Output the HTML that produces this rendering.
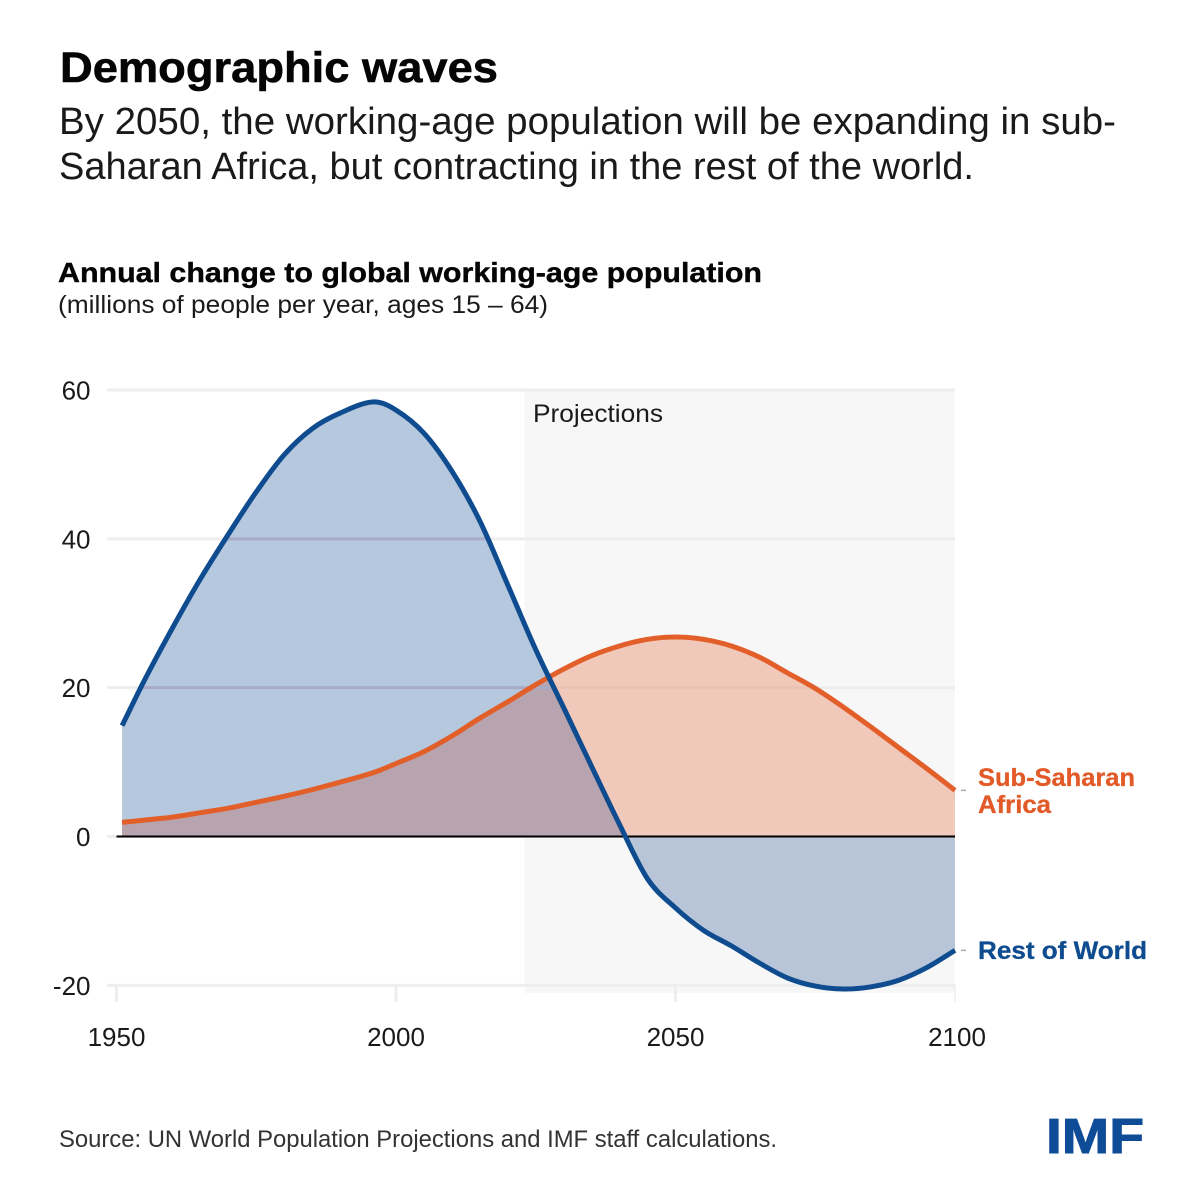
<!DOCTYPE html>
<html lang="en">
<head>
<meta charset="utf-8">
<title>Demographic waves</title>
<style>
html,body{margin:0;padding:0;background:#fff;width:1200px;height:1200px;overflow:hidden}
svg{display:block}
text{font-family:"Liberation Sans",sans-serif;fill:#1a1a1a}
</style>
</head>
<body>
<svg id="chart" xmlns="http://www.w3.org/2000/svg" width="1200" height="1200" viewBox="0 0 1200 1200">
  <rect x="0" y="0" width="1200" height="1200" fill="#ffffff"/>
  <text x="60" y="82" font-size="43" font-weight="700" textLength="438" lengthAdjust="spacingAndGlyphs" style="fill:#050505;stroke:#050505;stroke-width:.6">Demographic waves</text>
  <text x="59" y="134" font-size="38" textLength="1057" lengthAdjust="spacingAndGlyphs">By 2050, the working-age population will be expanding in sub-</text>
  <text x="59" y="179" font-size="38" textLength="915" lengthAdjust="spacingAndGlyphs">Saharan Africa, but contracting in the rest of the world.</text>
  <text x="58" y="282" font-size="28" font-weight="700" textLength="704" lengthAdjust="spacingAndGlyphs" style="fill:#050505;stroke:#050505;stroke-width:.4">Annual change to global working-age population</text>
  <text x="58" y="313" font-size="25" textLength="490" lengthAdjust="spacingAndGlyphs">(millions of people per year, ages 15 – 64)</text>
  <g id="plot"></g>
  <text x="59" y="1147" font-size="24" textLength="718" lengthAdjust="spacingAndGlyphs" style="fill:#333">Source: UN World Population Projections and IMF staff calculations.</text>
  <text x="1046" y="1153" font-size="49" font-weight="700" textLength="98" lengthAdjust="spacingAndGlyphs" style="fill:#0f4c97;stroke:#0f4c97;stroke-width:1">IMF</text>
</svg>
<script>
const years = [1951,1955,1960,1965,1970,1975,1980,1985,1990,1996,2000,2005,2010,2015,2020,2025,2030,2035,2040,2045,2050,2055,2060,2065,2070,2075,2080,2085,2090,2095,2100];
const restOfWorld = [14.9,21,28,34.6,40.6,46.3,51.3,54.8,56.9,58.4,57.3,54.2,49.1,42.4,33.8,25.1,17.3,9.4,1.6,-5.7,-9.6,-12.6,-14.7,-17,-19,-20.1,-20.5,-20.2,-19.3,-17.6,-15.3];
const subSaharanAfrica = [1.9,2.2,2.6,3.2,3.8,4.6,5.4,6.3,7.3,8.6,9.8,11.4,13.5,15.9,18.1,20.4,22.5,24.3,25.6,26.5,26.8,26.5,25.6,24.1,22,19.9,17.4,14.7,11.9,9.1,6.2];
const yTicks = [60,40,20,0,-20];
const xTicks = [1950,2000,2050,2100];
const projectionStartYear = 2023;

const NS = 'http://www.w3.org/2000/svg';
const plot = document.getElementById('plot');
function xScale(year){ return 116.5 + (year - 1950) * (955 - 116.5) / 150; }
function yScale(v){ return 836.5 - v * (836.5 - 390) / 60; }
function make(tag, attrs, text){
  const el = document.createElementNS(NS, tag);
  for (const k in attrs) el.setAttribute(k, attrs[k]);
  if (text !== undefined) el.textContent = text;
  plot.appendChild(el);
  return el;
}
function curve(xs, ys){
  let d = '';
  const n = xs.length;
  const px = xs.map(xScale), py = ys.map(yScale);
  d += px[0].toFixed(2) + ',' + py[0].toFixed(2);
  for (let i = 0; i < n - 1; i++){
    const p0 = Math.max(i - 1, 0), p3 = Math.min(i + 2, n - 1);
    const t1 = (px[i+1] - px[p0]) , t2 = (px[p3] - px[i]);
    const m1 = (py[i+1] - py[p0]) / t1, m2 = (py[p3] - py[i]) / t2;
    const h = px[i+1] - px[i];
    d += ' C' + (px[i] + h/3).toFixed(2) + ',' + (py[i] + m1*h/3).toFixed(2) + ' ' +
         (px[i+1] - h/3).toFixed(2) + ',' + (py[i+1] - m2*h/3).toFixed(2) + ' ' +
         px[i+1].toFixed(2) + ',' + py[i+1].toFixed(2);
  }
  return d;
}

const panel = make('rect', {x:xScale(projectionStartYear), y:yScale(60), width:xScale(2100)-xScale(projectionStartYear), height:993-yScale(60), fill:'#f7f7f7'});



yTicks.forEach(function(t){
  const g = make('line', {x1:107, x2:xScale(2100), y1:yScale(t), y2:yScale(t), stroke:'#eeeeee', 'stroke-width':3});
  
  
  const l = make('text', {x:90.5, y:yScale(t)+9.5, 'text-anchor':'end', 'font-size':26}, String(t));
  
  
});
xTicks.forEach(function(t, i){
  const g = make('line', {x1:xScale(t), x2:xScale(t), y1:985, y2:1002, stroke:'#eeeeee', 'stroke-width':i===3?1.5:3});
  
  
  const l = make('text', {x:xScale(t)+(i===3?2:0), y:1046, 'text-anchor':'middle', 'font-size':26}, String(t));
  
  
});

const projLabel = make('text', {x:533, y:422, 'font-size':25, textLength:130, lengthAdjust:'spacingAndGlyphs'}, 'Projections');



const first = years[0], last = years[years.length-1];
const blueAreaD = 'M'+xScale(first)+','+yScale(0)+' L'+curve(years, restOfWorld)+' L'+xScale(last)+','+yScale(0)+' Z';
const orangeAreaD = 'M'+xScale(first)+','+yScale(0)+' L'+curve(years, subSaharanAfrica)+' L'+xScale(last)+','+yScale(0)+' Z';

const grad = make('linearGradient', {id:'blue-fill', gradientUnits:'userSpaceOnUse', x1:0, x2:0, y1:yScale(60), y2:yScale(-20)});


const split = (yScale(0) - yScale(60)) / (yScale(-20) - yScale(60));
[[0,'#b5c8dd'],[split,'#b5c8dd'],[split,'#b8c5d8'],[1,'#b8c5d8']].forEach(function(s){
  const st = document.createElementNS(NS, 'stop');
  st.setAttribute('offset', s[0]);
  st.setAttribute('stop-color', s[1]);
  grad.appendChild(st);
});

const blueArea = make('path', {d:blueAreaD, fill:'url(#blue-fill)'});


const orangeArea = make('path', {d:orangeAreaD, fill:'#e25a28', 'fill-opacity':0.29});



const clip = make('clipPath', {id:'blue-clip'});


const clipShape = document.createElementNS(NS, 'path');
clipShape.setAttribute('d', blueAreaD);
clip.appendChild(clipShape);

const overlap = make('path', {d:orangeAreaD, fill:'#b8a4af', 'clip-path':'url(#blue-clip)'});



yTicks.filter(function(t){ return t > 0; }).forEach(function(t){
  const g = make('line', {x1:107, x2:xScale(2100), y1:yScale(t), y2:yScale(t), stroke:'#a8aac8', 'stroke-width':3, 'clip-path':'url(#blue-clip)'});
  
  
});

const stub = make('line', {x1:107, x2:xScale(1950), y1:yScale(0), y2:yScale(0), stroke:'#eeeeee', 'stroke-width':3});


const zero = make('line', {x1:xScale(1950), x2:xScale(2100), y1:yScale(0), y2:yScale(0), stroke:'#000', 'stroke-width':2});



const orangeLine = make('path', {d:'M'+curve(years, subSaharanAfrica), fill:'none', stroke:'#e25f2a', 'stroke-width':5});


const blueLine = make('path', {d:'M'+curve(years, restOfWorld), fill:'none', stroke:'#0f4c8f', 'stroke-width':5});



const orangeEnd = subSaharanAfrica[subSaharanAfrica.length-1];
const blueEnd = restOfWorld[restOfWorld.length-1];
const dash1 = make('line', {x1:961, x2:966, y1:yScale(orangeEnd), y2:yScale(orangeEnd), stroke:'#aaaaaa', 'stroke-width':1.5});


const dash2 = make('line', {x1:961, x2:966, y1:yScale(blueEnd), y2:yScale(blueEnd), stroke:'#aaaaaa', 'stroke-width':1.5});



const lab1 = make('text', {x:978, y:786, 'font-size':25, 'font-weight':700, textLength:157, lengthAdjust:'spacingAndGlyphs', style:'fill:#e25a28;stroke:#e25a28;stroke-width:.3'}, 'Sub-Saharan');


const lab2 = make('text', {x:978, y:813, 'font-size':25, 'font-weight':700, textLength:73, lengthAdjust:'spacingAndGlyphs', style:'fill:#e25a28;stroke:#e25a28;stroke-width:.3'}, 'Africa');


const lab3 = make('text', {x:978, y:959, 'font-size':25, 'font-weight':700, textLength:169, lengthAdjust:'spacingAndGlyphs', style:'fill:#0f4c8f;stroke:#0f4c8f;stroke-width:.3'}, 'Rest of World');


</script>
</body>
</html>
